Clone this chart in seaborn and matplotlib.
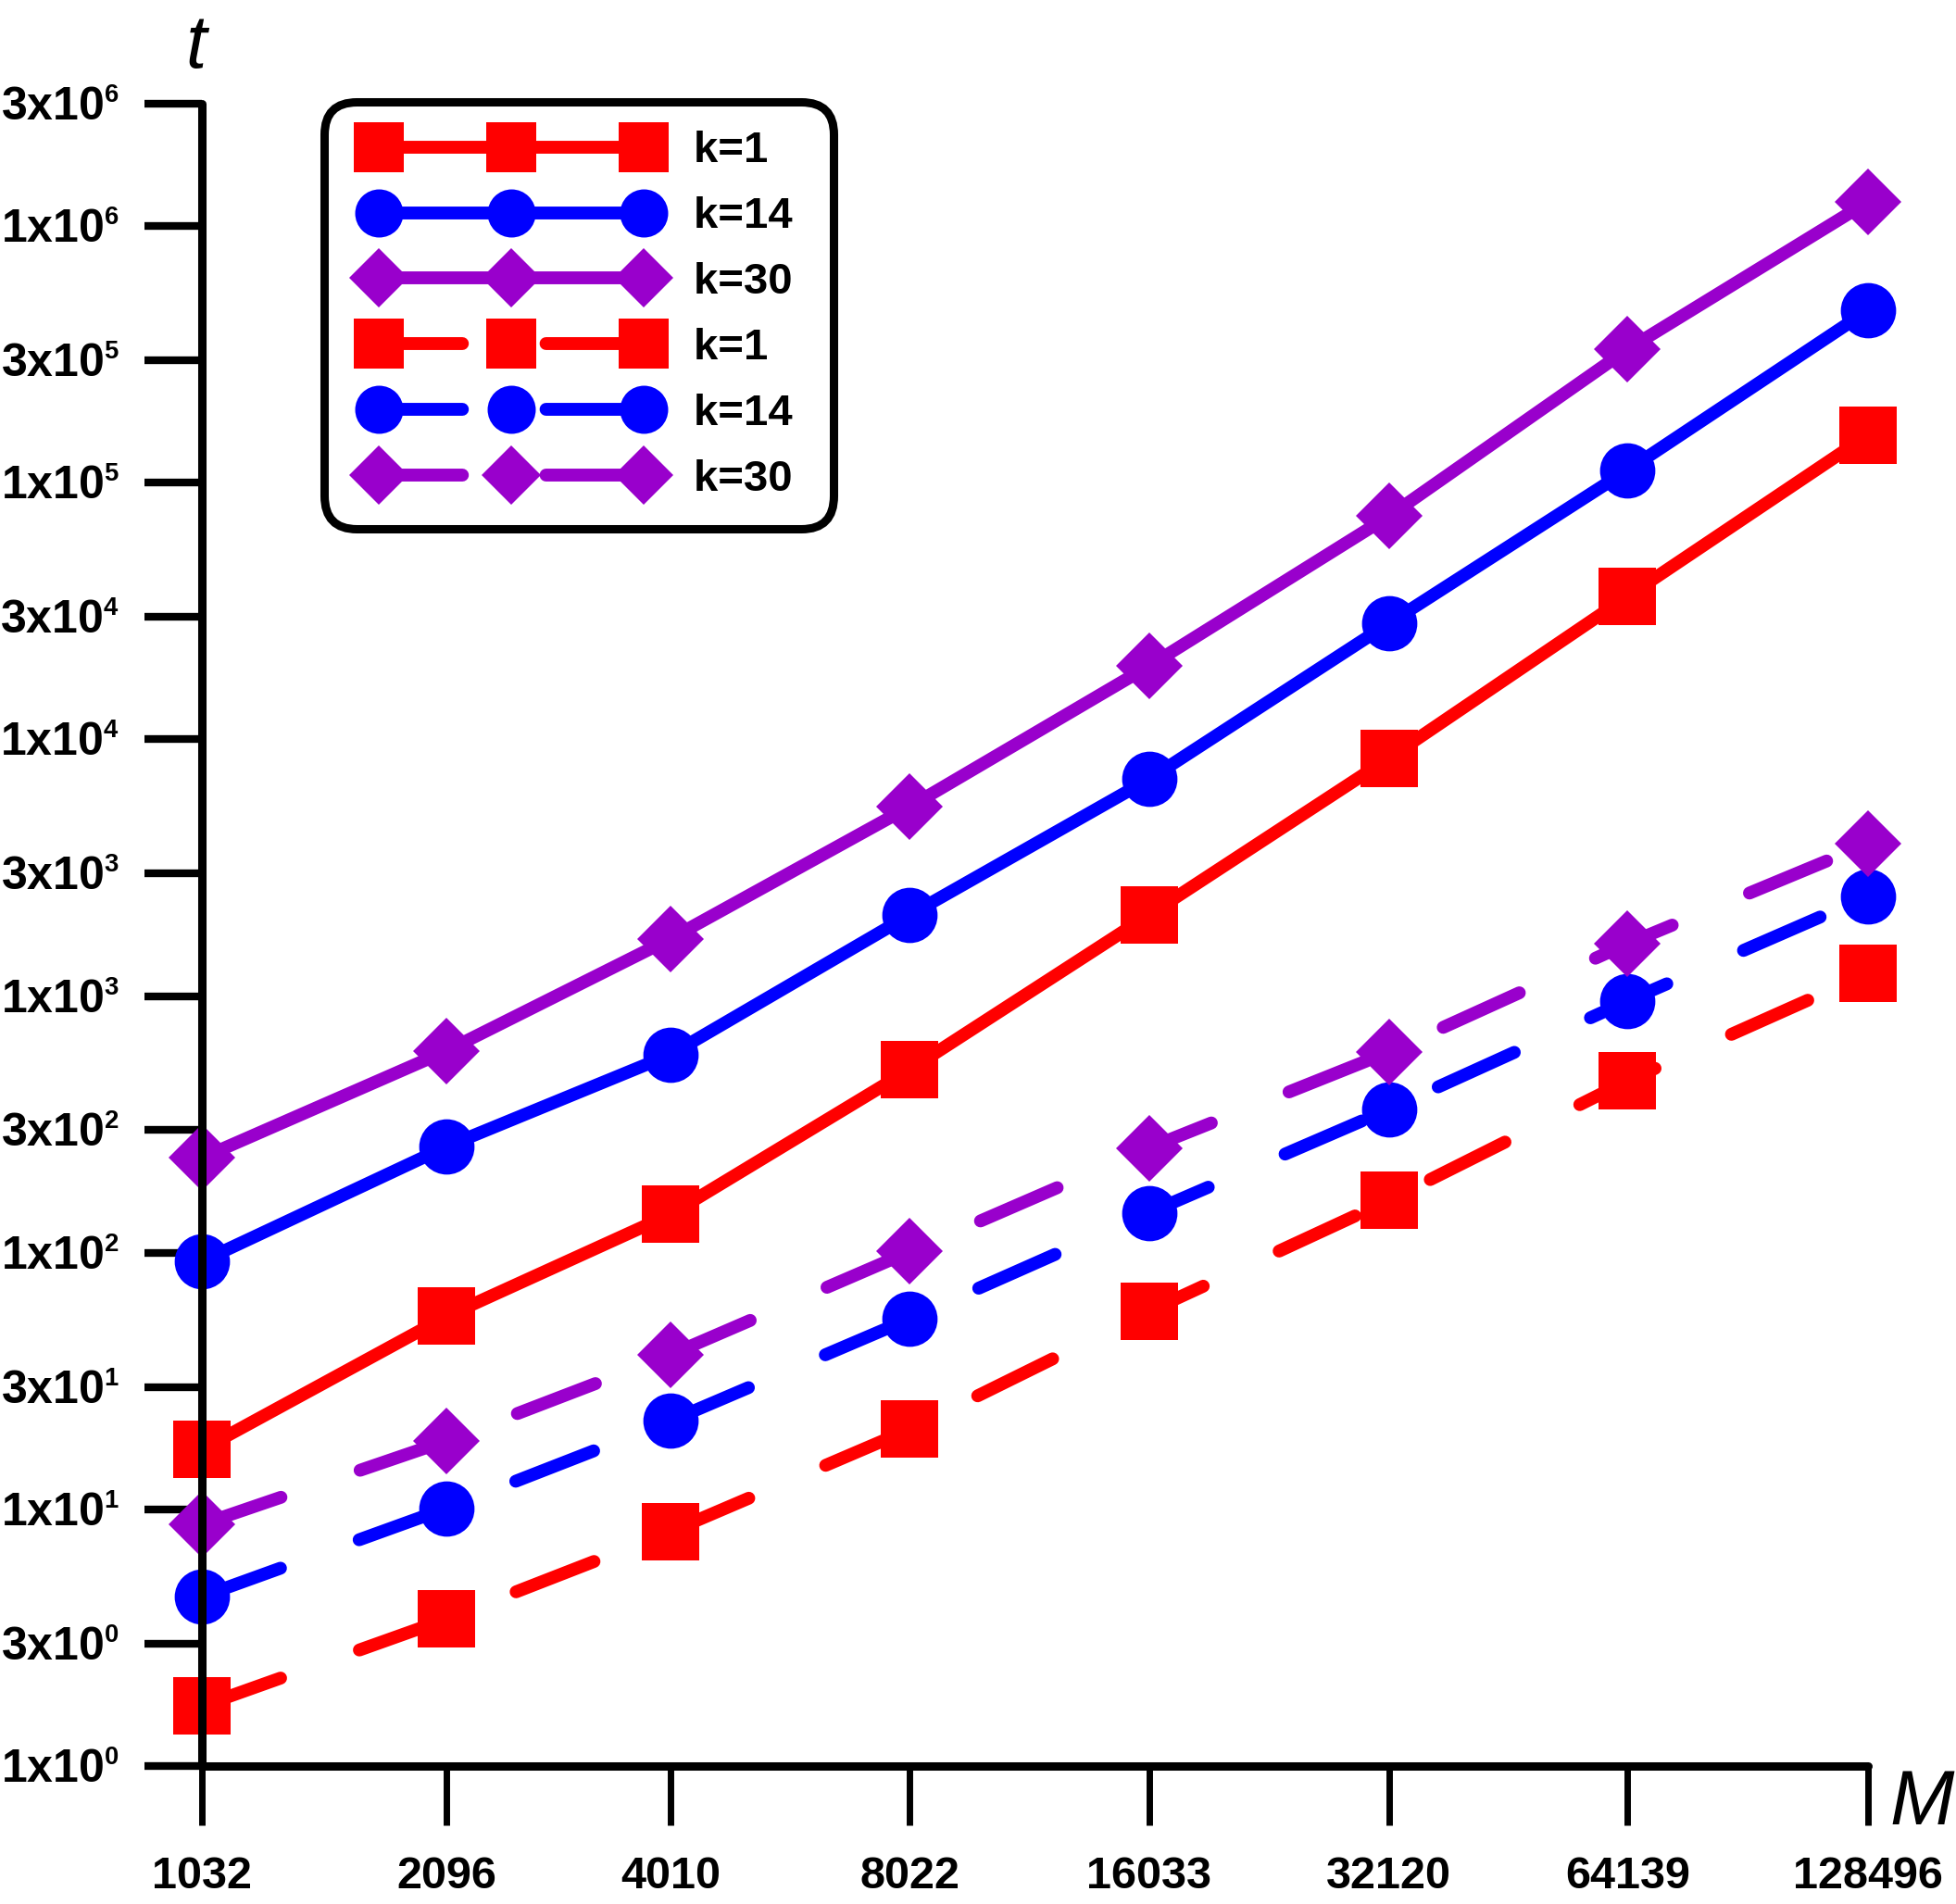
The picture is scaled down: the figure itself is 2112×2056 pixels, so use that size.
import numpy as np
import pandas as pd
import matplotlib
matplotlib.use("Agg")
import matplotlib.pyplot as plt
import matplotlib._mathtext as _mt
import seaborn as sns
from matplotlib.lines import Line2D
from matplotlib.legend_handler import HandlerLine2D
from matplotlib.ticker import FixedLocator, FixedFormatter, NullLocator

# ---- data ----
M_values = [1032, 2096, 4010, 8022, 16033, 32120, 64139, 128496]
M_labels = ["1032", "2096", "4010", "8022", "16033", "32120", "64139", "128496"]

solid_k1 = [17.1, 56.5, 141, 517, 2070, 8450, 36100, 153000]
solid_k14 = [92.5, 259, 591, 2070, 6990, 28300, 112000, 468000]
solid_k30 = [234, 611, 1672, 5470, 19300, 74000, 331000, 1240000]

dashed_k1 = [1.71, 3.74, 8.18, 20.5, 59.1, 160, 468, 1223]
dashed_k14 = [4.57, 10.1, 22.1, 55.3, 143, 362, 957, 2445]
dashed_k30 = [8.74, 18.5, 40, 101, 256, 605, 1600, 3910]

y_ticks = [1, 3, 10, 30, 1e2, 3e2, 1e3, 3e3, 1e4, 3e4, 1e5, 3e5, 1e6, 3e6]
y_labels = [r"$\mathbf{1x10^{0}}$", r"$\mathbf{3x10^{0}}$",
            r"$\mathbf{1x10^{1}}$", r"$\mathbf{3x10^{1}}$",
            r"$\mathbf{1x10^{2}}$", r"$\mathbf{3x10^{2}}$",
            r"$\mathbf{1x10^{3}}$", r"$\mathbf{3x10^{3}}$",
            r"$\mathbf{1x10^{4}}$", r"$\mathbf{3x10^{4}}$",
            r"$\mathbf{1x10^{5}}$", r"$\mathbf{3x10^{5}}$",
            r"$\mathbf{1x10^{6}}$", r"$\mathbf{3x10^{6}}$"]

legend_labels = ["k=1", "k=14", "k=30", "k=1", "k=14", "k=30"]

# ---- style ----
sns.set_style("white")
plt.rcParams["font.family"] = ["Liberation Sans", "DejaVu Sans"]
plt.rcParams["font.weight"] = "bold"
plt.rcParams["text.color"] = "black"
plt.rcParams["axes.edgecolor"] = "black"
plt.rcParams["xtick.color"] = "black"
plt.rcParams["ytick.color"] = "black"
plt.rcParams["mathtext.fontset"] = "custom"
plt.rcParams["mathtext.bf"] = "Liberation Sans:bold"
plt.rcParams["mathtext.rm"] = "Liberation Sans:bold"
plt.rcParams["mathtext.it"] = "Liberation Sans:italic:bold"
_mt.SHRINK_FACTOR = 0.55  # smaller superscripts like the reference

RED = "#FF0000"
BLUE = "#0000FF"
PURPLE = "#9900CC"
LW = 10
DASH = (0, (6.5, 6.5))

fig = plt.figure(figsize=(21.12, 20.56), dpi=100)
ax = fig.add_axes([0.1032, 0.0725, 0.9548 - 0.1032, 0.9456 - 0.0725])

series = [
    (solid_k1, RED, "s", 44, "-"),
    (solid_k14, BLUE, "o", 43, "-"),
    (solid_k30, PURPLE, "D", 37, "-"),
    (dashed_k1, RED, "s", 44, DASH),
    (dashed_k14, BLUE, "o", 43, DASH),
    (dashed_k30, PURPLE, "D", 37, DASH),
]

handles = []
for (vals, col, mk, ms, ls), lab in zip(series, legend_labels):
    df = pd.DataFrame({"M": M_values, "t": vals})
    sns.lineplot(data=df, x="M", y="t", ax=ax, color=col, marker=mk,
                 markersize=ms, markeredgewidth=0, linewidth=LW,
                 linestyle=ls, dash_capstyle="round", solid_capstyle="butt",
                 clip_on=False, errorbar=None, legend=False)
    ln = ax.get_lines()[-1]
    ln.set_label(lab)
    handles.append(ln)

ax.set_xscale("log")
ax.set_yscale("log")
ax.set_xlim(M_values[0], M_values[-1])
ax.set_ylim(1, 3e6)

ax.xaxis.set_major_locator(FixedLocator(M_values))
ax.xaxis.set_major_formatter(FixedFormatter(M_labels))
ax.xaxis.set_minor_locator(NullLocator())
ax.yaxis.set_major_locator(FixedLocator(y_ticks))
ax.yaxis.set_major_formatter(FixedFormatter(y_labels))
ax.yaxis.set_minor_locator(NullLocator())

ax.set_xlabel("")
ax.set_ylabel("")

for s in ["top", "right"]:
    ax.spines[s].set_visible(False)
for s in ["left", "bottom"]:
    ax.spines[s].set_linewidth(6.5)
    ax.spines[s].set_color("black")
    ax.spines[s].set_capstyle("round")

ax.tick_params(axis="y", which="major", left=True, direction="out", length=45,
               width=6, pad=19, labelsize=36, colors="black")
ax.tick_params(axis="x", which="major", bottom=True, direction="out", length=46,
               width=5, pad=24, labelsize=35, colors="black")
for lbl in ax.get_xticklabels():
    lbl.set_fontweight("bold")
for t in ax.xaxis.get_major_ticks() + ax.yaxis.get_major_ticks():
    t.tick1line.set_solid_capstyle("round")

leg = ax.legend(handles=handles, labels=[l + " " for l in legend_labels],
                handler_map={Line2D: HandlerLine2D(numpoints=3, marker_pad=0.59)},
                loc="upper left", bbox_to_anchor=(350 / 2112, 1 - 110 / 2056),
                bbox_transform=fig.transFigure, borderaxespad=0,
                borderpad=0.66, handlelength=7.23, handletextpad=0.56,
                labelspacing=0.57, markerscale=0.87, frameon=True, fancybox=True,
                prop={"weight": "bold", "size": 34, "family": "Liberation Sans"})
frame = leg.get_frame()
frame.set_edgecolor("black")
frame.set_linewidth(6.5)
frame.set_facecolor("white")
frame.set_alpha(1)
frame.set_boxstyle("round", pad=0, rounding_size=0.75)
for lh in leg.get_lines():
    lh.set_linewidth(LW)

fig.text(212 / 2112, 1 - 52 / 2056, "t", fontsize=58, style="italic",
         fontweight="normal", family="Liberation Sans", ha="center", va="center")
fig.text(2075 / 2112, 1 - 1948 / 2056, "M", fontsize=60, style="italic",
         fontweight="normal", family="Liberation Sans", ha="center", va="center")

fig.savefig("out.png", dpi=100, facecolor="white")
